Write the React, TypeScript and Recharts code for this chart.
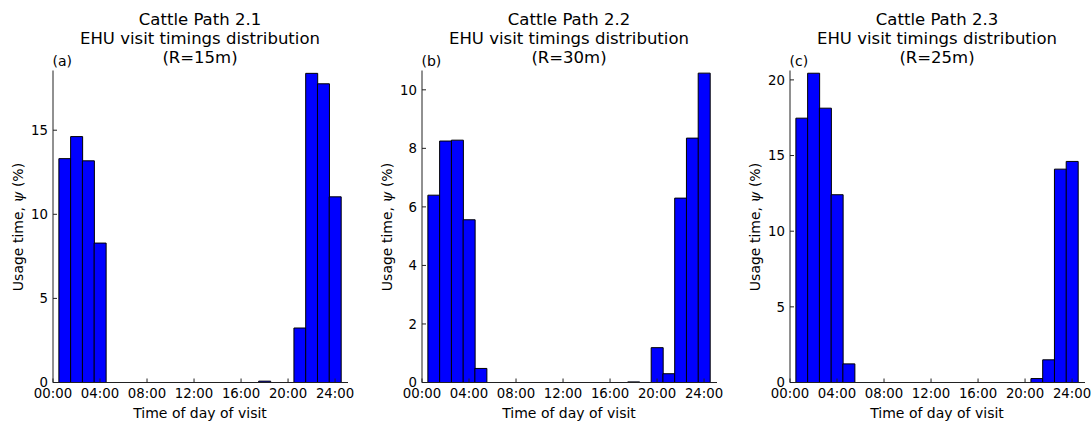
import { Bar, BarChart, XAxis, YAxis } from 'recharts';

// Hour-of-day bins (bar centres), 1-hour wide.
const HOURS = [1, 2, 3, 4, 5, 6, 7, 8, 9, 10, 11, 12, 13, 14, 15, 16, 17, 18, 19, 20, 21, 22, 23, 24];
const X_TICKS = [0, 4, 8, 12, 16, 20, 24];
const X_MAX = 25.1;

// Usage time per hour (%), one array per cattle path.
const PATH_21 = [13.31, 14.62, 13.18, 8.29, 0, 0, 0, 0, 0, 0, 0, 0, 0, 0, 0, 0, 0, 0.08, 0, 0, 3.24, 18.38, 17.76, 11.04];
const PATH_22 = [6.4, 8.25, 8.28, 5.56, 0.48, 0, 0, 0, 0, 0, 0, 0, 0, 0, 0, 0, 0, 0.02, 0, 1.19, 0.3, 6.3, 8.35, 10.57];
const PATH_23 = [17.47, 20.44, 18.13, 12.41, 1.23, 0, 0, 0, 0, 0, 0, 0, 0, 0, 0, 0, 0, 0, 0, 0, 0.26, 1.5, 14.1, 14.61];

const Y_TICKS_21 = [0, 5, 10, 15];
const Y_TICKS_22 = [0, 2, 4, 6, 8, 10];
const Y_TICKS_23 = [0, 5, 10, 15, 20];

const FONT = '"DejaVu Sans", sans-serif';
const PLOT_TOP = 70.5;
const PLOT_BOTTOM = 382.5;
const Y_AXIS_W = 60;
const RIGHT_PAD = 30; // room for the "24:00" label past the right spine
const TICK_LEN = 4;
const LABEL_GAP = 5;
const TICK_FONT = 13.3;
const SPINE = '#222';

interface PanelProps {
  letter: string;
  path: string;
  radius: number;
  values: number[];
  yMax: number;
  yTicks: number[];
  plotLeft: number;
  plotRight: number;
}

const fmtHour = (h: number) => `${String(h).padStart(2, '0')}:00`;

// matplotlib-classic style ticks: pointing into the plot, on all four sides
function BottomTick(props: any) {
  const { x, y, payload } = props;
  const axisY = y - LABEL_GAP;
  return (
    <g>
      <line x1={x} y1={axisY} x2={x} y2={axisY - TICK_LEN} stroke={SPINE} strokeWidth={1} />
      <text x={x} y={y} dy="0.78em" textAnchor="middle" fontSize={TICK_FONT} fontFamily={FONT} fill="#000">
        {fmtHour(payload.value)}
      </text>
    </g>
  );
}

function TopTick(props: any) {
  const { x, y } = props;
  return <line x1={x} y1={y} x2={x} y2={y + TICK_LEN} stroke={SPINE} strokeWidth={1} />;
}

function LeftTick(props: any) {
  const { x, y, payload } = props;
  const axisX = x + LABEL_GAP;
  return (
    <g>
      <line x1={axisX} y1={y} x2={axisX + TICK_LEN} y2={y} stroke={SPINE} strokeWidth={1} />
      <text x={x} y={y} dy="0.36em" textAnchor="end" fontSize={TICK_FONT} fontFamily={FONT} fill="#000">
        {payload.value}
      </text>
    </g>
  );
}

function RightTick(props: any) {
  const { x, y } = props;
  return <line x1={x} y1={y} x2={x - TICK_LEN} y2={y} stroke={SPINE} strokeWidth={1} />;
}

function Panel({ letter, path, radius, values, yMax, yTicks, plotLeft, plotRight }: PanelProps) {
  const rows = HOURS.map((h, i) => ({ hour: h, usage: values[i] }));
  const plotW = plotRight - plotLeft;
  const chartLeft = plotLeft - Y_AXIS_W;
  const centerX = (plotLeft + plotRight) / 2;
  const centerY = (PLOT_TOP + PLOT_BOTTOM) / 2;
  const axisStroke = { stroke: SPINE, strokeWidth: 1 };

  return (
    <>
      <div
        style={{
          position: 'absolute',
          left: centerX - 200,
          width: 400,
          top: 9.5,
          textAlign: 'center',
          fontFamily: FONT,
          fontSize: 16.5,
          lineHeight: '19px',
          color: '#000',
        }}
      >
        <div>Cattle Path {path}</div>
        <div>EHU visit timings distribution</div>
        <div>(R={radius}m)</div>
      </div>
      <div
        style={{ position: 'absolute', left: plotLeft, top: 53, fontFamily: FONT, fontSize: 14, color: '#000' }}
      >
        ({letter})
      </div>
      <div
        style={{
          position: 'absolute',
          left: plotLeft - 34.5,
          top: centerY,
          transform: 'translate(-50%, -50%) rotate(-90deg)',
          whiteSpace: 'nowrap',
          fontFamily: FONT,
          fontSize: 14,
          color: '#000',
        }}
      >
        Usage time, <span style={{ fontStyle: 'italic', fontFamily: '"DejaVu Serif", serif' }}>ψ</span> (%)
      </div>
      <div
        style={{
          position: 'absolute',
          left: centerX,
          top: 413,
          transform: 'translate(-50%, -50%)',
          whiteSpace: 'nowrap',
          fontFamily: FONT,
          fontSize: 14,
          color: '#000',
        }}
      >
        Time of day of visit
      </div>
      <div style={{ position: 'absolute', left: chartLeft, top: 0 }}>
        <BarChart
          width={plotW + Y_AXIS_W + RIGHT_PAD}
          height={421}
          data={rows}
          margin={{ top: PLOT_TOP, right: RIGHT_PAD, bottom: 0, left: 0 }}
          barCategoryGap={0}
          barGap={0}
        >
          <XAxis
            xAxisId="b"
            dataKey="hour"
            type="number"
            domain={[0, X_MAX]}
            ticks={X_TICKS}
            interval={0}
            height={421 - PLOT_BOTTOM}
            tickSize={0}
            tickMargin={LABEL_GAP}
            tickLine={false}
            axisLine={axisStroke}
            tick={BottomTick}
          />
          <XAxis
            xAxisId="t"
            orientation="top"
            dataKey="hour"
            type="number"
            domain={[0, X_MAX]}
            ticks={X_TICKS}
            interval={0}
            height={0}
            tickSize={0}
            tickMargin={0}
            tickLine={false}
            axisLine={axisStroke}
            tick={TopTick}
          />
          <YAxis
            yAxisId="l"
            type="number"
            domain={[0, yMax]}
            ticks={yTicks}
            interval={0}
            width={Y_AXIS_W}
            tickSize={0}
            tickMargin={LABEL_GAP}
            tickLine={false}
            axisLine={axisStroke}
            tick={LeftTick}
          />
          <YAxis
            yAxisId="r"
            orientation="right"
            type="number"
            domain={[0, yMax]}
            ticks={yTicks}
            interval={0}
            width={0}
            tickSize={0}
            tickMargin={0}
            tickLine={false}
            axisLine={axisStroke}
            tick={RightTick}
          />
          <Bar
            xAxisId="b"
            yAxisId="l"
            dataKey="usage"
            fill="#0000ff"
            stroke="#000"
            strokeWidth={1}
            isAnimationActive={false}
          />
        </BarChart>
      </div>
    </>
  );
}

export default function App() {
  return (
    <div style={{ position: 'absolute', left: 0, top: 0, width: 1091, height: 421, background: '#fff', overflow: 'hidden' }}>
      <Panel letter="a" path="2.1" radius={15} values={PATH_21} yMax={18.55} yTicks={Y_TICKS_21} plotLeft={52.5} plotRight={347.5} />
      <Panel letter="b" path="2.2" radius={30} values={PATH_22} yMax={10.66} yTicks={Y_TICKS_22} plotLeft={421.5} plotRight={716.5} />
      <Panel letter="c" path="2.3" radius={25} values={PATH_23} yMax={20.62} yTicks={Y_TICKS_23} plotLeft={789.5} plotRight={1084.5} />
    </div>
  );
}
